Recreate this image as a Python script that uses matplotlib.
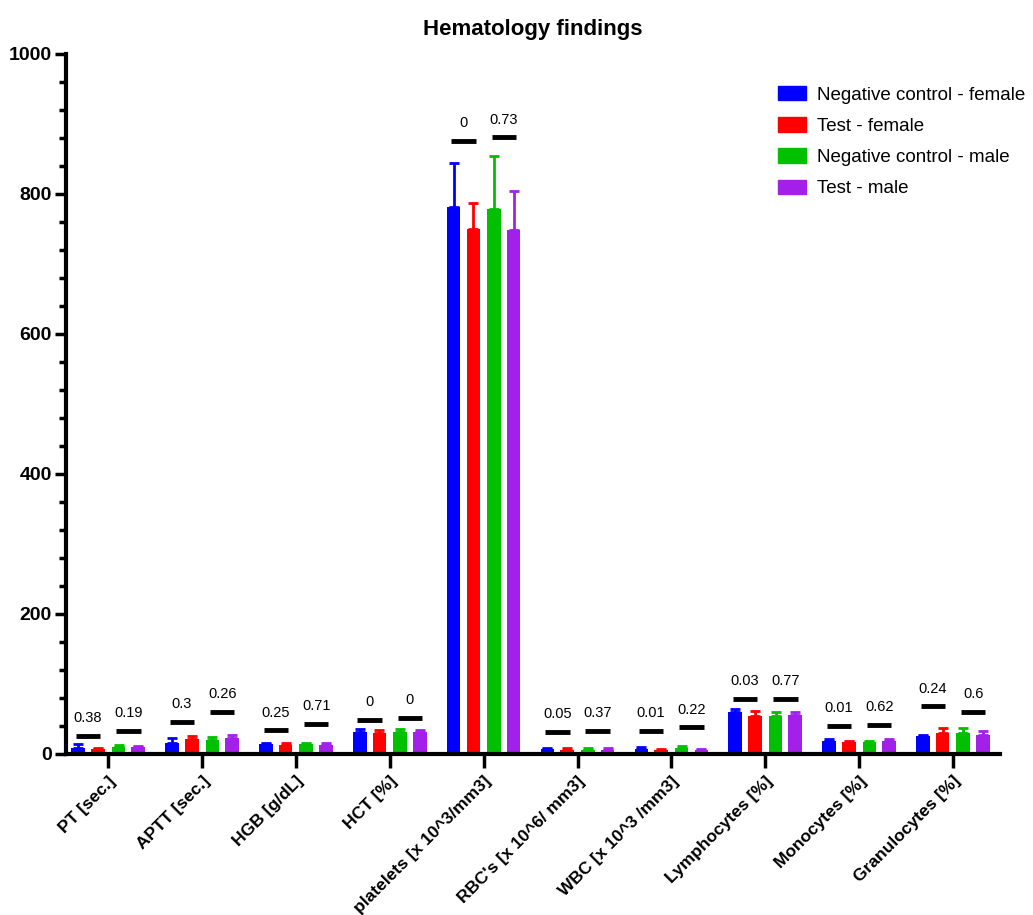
import numpy as np
import matplotlib
matplotlib.use("Agg")
import matplotlib.pyplot as plt
from matplotlib.patches import Patch

categories = ["PT [sec.]", "APTT [sec.]", "HGB [g/dL]", "HCT [%]",
              "platelets [x 10^3/mm3]", "RBC's [x 10^6/ mm3]",
              "WBC [x 10^3 /mm3]", "Lymphocytes [%]", "Monocytes [%]",
              "Granulocytes [%]"]
series_names = ["Negative control - female", "Test - female",
                "Negative control - male", "Test - male"]
colors = ["#0000FF", "#FF0000", "#00C000", "#A31FEA"]

neg_female = [8, 15, 14, 32, 782, 7, 7, 60, 19, 25]
test_female = [7, 21, 13, 30, 750, 6, 5, 54, 17, 30]
neg_male = [10, 20, 14, 32, 779, 6, 8, 54, 17, 30]
test_male = [10, 23, 13, 31, 748, 6, 5, 56, 19, 27]

err_neg_female = [6, 8, 2, 3, 62, 2, 3, 4, 2, 2]
err_test_female = [2, 5, 2, 4, 37, 2, 2, 7, 2, 7]
err_neg_male = [3, 4, 2, 3, 75, 2, 3, 6, 2, 7]
err_test_male = [2, 4, 2, 3, 56, 2, 2, 4, 2, 6]

p_female = ["0.38", "0.3", "0.25", "0", "0", "0.05", "0.01", "0.03", "0.01", "0.24"]
p_male = ["0.19", "0.26", "0.71", "0", "0.73", "0.37", "0.22", "0.77", "0.62", "0.6"]
p_female_y = [26, 46, 34, 49, 876, 32, 33, 79, 40, 68]
p_male_y = [33, 60, 43, 52, 881, 33, 38, 79, 42, 60]

values = [neg_female, test_female, neg_male, test_male]
errors = [err_neg_female, err_test_female, err_neg_male, err_test_male]

FONT = 'Liberation Sans'

fig = plt.figure(figsize=(10.33, 9.15), dpi=100)
ax = fig.add_axes([0.0639, 0.176, 0.904, 0.765])

x = np.arange(len(categories))
offsets = [-0.32, -0.11, 0.11, 0.32]
bw = 0.145
for vals, errs, c, off, name in zip(values, errors, colors, offsets, series_names):
    ax.bar(x + off, vals, width=bw, color=c, label=name, zorder=2)
    ax.errorbar(x + off, vals, yerr=[np.zeros(len(vals)), errs], fmt='none',
                ecolor=c, elinewidth=2, capsize=3.5, capthick=2, zorder=3)

pair_w = 0.26
for i in range(len(categories)):
    for cx, yv, lab in [(x[i] + (offsets[0] + offsets[1]) / 2, p_female_y[i], p_female[i]),
                        (x[i] + (offsets[2] + offsets[3]) / 2, p_male_y[i], p_male[i])]:
        ax.plot([cx - pair_w / 2, cx + pair_w / 2], [yv, yv], color='black',
                lw=3.5, solid_capstyle='butt', zorder=4)
        ax.text(cx, yv + 15, lab, ha='center', va='bottom', fontsize=10.5,
                family=FONT)

ax.set_xlim(-0.45, 9.5)
ax.set_ylim(0, 1000)
ax.set_yticks(np.arange(0, 1001, 200))
ax.set_yticks(np.arange(0, 1001, 40), minor=True)
ax.set_yticklabels([str(v) for v in range(0, 1001, 200)], fontweight='bold',
                   fontsize=14, family=FONT)
ax.set_xticks(x)
ax.set_xticklabels(categories, rotation=45, ha='right', rotation_mode='anchor',
                   fontweight='bold', fontsize=12.5, family=FONT)
ax.tick_params(axis='y', which='major', length=8, width=2.5, pad=2)
ax.tick_params(axis='y', which='minor', length=5, width=2.5)
ax.tick_params(axis='x', which='major', length=10, width=2.5, pad=4)
for s in ['top', 'right']:
    ax.spines[s].set_visible(False)
for s in ['left', 'bottom']:
    ax.spines[s].set_linewidth(3)

ax.set_title("Hematology findings", fontweight='bold', fontsize=16,
             family=FONT, pad=14)

handles = [Patch(color=c, label=n) for c, n in zip(colors, series_names)]
fig.legend(handles=handles, loc='upper left', bbox_to_anchor=(0.753, 0.906),
           frameon=False, prop={'family': FONT, 'size': 13.5},
           borderpad=0, borderaxespad=0,
           handlelength=1.5, handleheight=0.8, labelspacing=0.72, handletextpad=0.6)

fig.savefig("out.png", dpi=100)
